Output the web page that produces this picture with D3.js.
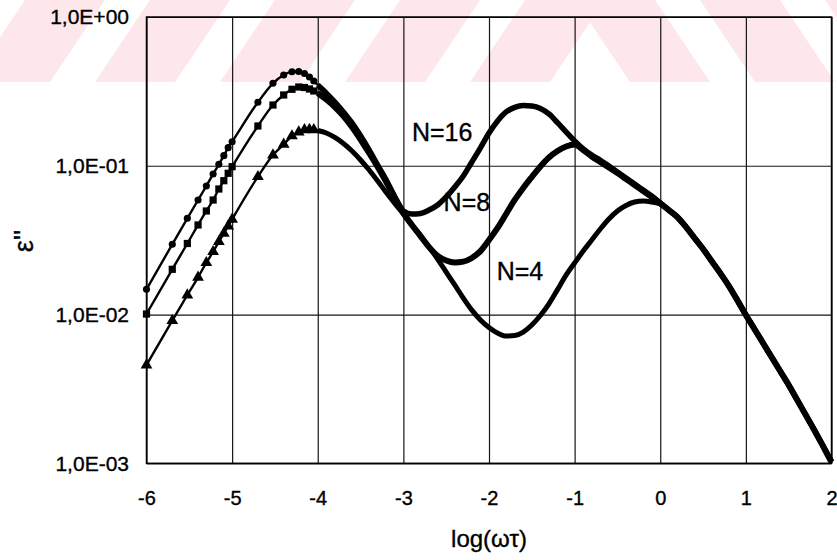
<!DOCTYPE html>
<html>
<head>
<meta charset="utf-8">
<script src="https://d3js.org/d3.v7.min.js"></script>
<style>
body { margin: 0; background: #fff; }
svg { display: block; }
text { font-family: "Liberation Sans", Arial, sans-serif; fill: #000; stroke: #000; stroke-width: 0.35px; }
</style>
</head>
<body>
<svg id="chart" width="837" height="560"></svg>
<script>

// log(omega tau) positions: sparse points k*10^n for the first two decades, then every 0.1
var logW = [-6, -5.699, -5.523, -5.398, -5.301, -5.222, -5.155, -5.097, -5.046,
	-5, -4.699, -4.523, -4.398, -4.301, -4.222, -4.155, -4.097, -4.046,
	-4.0, -3.9, -3.8, -3.7, -3.6, -3.5, -3.4, -3.3, -3.2, -3.1,
	-3.0, -2.9, -2.8, -2.7, -2.6, -2.5, -2.4, -2.3, -2.2, -2.1,
	-2.0, -1.9, -1.8, -1.7, -1.6, -1.5, -1.4, -1.3, -1.2, -1.1,
	-1.0, -0.9, -0.8, -0.7, -0.6, -0.5, -0.4, -0.3, -0.2, -0.1,
	0.0, 0.1, 0.2, 0.3, 0.4, 0.5, 0.6, 0.7, 0.8, 0.9,
	1.0, 1.1, 1.2, 1.3, 1.4, 1.5, 1.6, 1.7, 1.8, 1.9, 2.0];

var epsN16 = [0.01478, 0.02966, 0.04435, 0.05886, 0.07311, 0.08806, 0.1023, 0.1169, 0.1323,
	0.1451, 0.2671, 0.3584, 0.4075, 0.4288, 0.4302, 0.4171, 0.3952, 0.3713,
	0.349, 0.308, 0.268, 0.230, 0.194, 0.159, 0.128, 0.101, 0.0802, 0.0617,
	0.0497, 0.0474, 0.0478, 0.0504, 0.0545, 0.0617, 0.0720, 0.0854, 0.106, 0.132,
	0.166, 0.200, 0.230, 0.247, 0.254, 0.252, 0.243, 0.223, 0.195, 0.169,
	0.147, 0.130, 0.118, 0.109, 0.0997, 0.0908, 0.0828, 0.0754, 0.0687, 0.0626,
	0.0562, 0.0504, 0.0452, 0.0388, 0.0327, 0.0276, 0.0229, 0.0190, 0.0156, 0.0125,
	0.00993, 0.00800, 0.00644, 0.00518, 0.00417, 0.00336, 0.00266, 0.00211, 0.00167, 0.00131, 0.00102];

var epsN8 = [0.01008, 0.02014, 0.03003, 0.0400, 0.04966, 0.05886, 0.06978, 0.07937, 0.08902,
	0.09858, 0.1851, 0.2561, 0.2991, 0.3266, 0.3384, 0.3358, 0.3281, 0.3181,
	0.3084, 0.2790, 0.2483, 0.2160, 0.1822, 0.1502, 0.1218, 0.0981, 0.0778, 0.0612,
	0.0481, 0.0400, 0.0337, 0.0284, 0.0248, 0.0231, 0.0224, 0.0227, 0.0240, 0.0267,
	0.0317, 0.0382, 0.0474, 0.0589, 0.0709, 0.0840, 0.0989, 0.1137, 0.1257, 0.1347,
	0.1390, 0.1276, 0.1154, 0.1060, 0.0974, 0.0894, 0.0815, 0.0743, 0.0677, 0.0617,
	0.0558, 0.0504, 0.0452, 0.0388, 0.0327, 0.0276, 0.0229, 0.0190, 0.0156, 0.0125,
	0.00993, 0.00800, 0.00644, 0.00518, 0.00417, 0.00336, 0.00266, 0.00211, 0.00167, 0.00131, 0.00102];

var epsN4 = [0.004579, 0.009091, 0.01353, 0.01780, 0.02230, 0.02645, 0.03087, 0.03516, 0.0393,
	0.04368, 0.08443, 0.1181, 0.1394, 0.1586, 0.1687, 0.1745, 0.1753, 0.1745,
	0.1726, 0.1661, 0.1549, 0.1411, 0.1257, 0.1094, 0.0937, 0.0790, 0.0661, 0.0558,
	0.0474, 0.0400, 0.0337, 0.0284, 0.0236, 0.0193, 0.0158, 0.0129, 0.0107, 0.00919,
	0.00818, 0.00751, 0.00717, 0.00723, 0.00763, 0.00851, 0.00985, 0.0118, 0.0147, 0.0184,
	0.0222, 0.0267, 0.0317, 0.0376, 0.0439, 0.0497, 0.0541, 0.0571, 0.0580, 0.0571,
	0.0553, 0.0504, 0.0452, 0.0388, 0.0327, 0.0276, 0.0229, 0.0190, 0.0156, 0.0125,
	0.00993, 0.00800, 0.00644, 0.00518, 0.00417, 0.00336, 0.00266, 0.00211, 0.00167, 0.00131, 0.00102];

var seriesNames = ["N=16", "N=8", "N=4"];
var labelX = [-2.90, -2.53, -1.91];
var labelY = [0.1456, 0.0493, 0.0171];

var xTicks = [-6, -5, -4, -3, -2, -1, 0, 1, 2];
var yTicks = [1, 0.1, 0.01, 0.001];
var yTickLabels = ["1,0E+00", "1,0E-01", "1,0E-02", "1,0E-03"];

var sparseCount = 18;

function drawChart(){
	var svg = d3.select("#chart");

	var plotLeft = 146.5, plotRight = 831.5, plotTop = 17, plotBottom = 463.3;

	var x = d3.scaleLinear().domain([-6, 2]).range([plotLeft, plotRight]);
	var y = d3.scaleLog().domain([0.001, 1]).range([plotBottom, plotTop]);

	// faint watermark stripes across the top
	var wm = svg.append("g").attr("fill", "#fde7eb");
	for (var i = 0; i < 5; i++) {
		var x0 = -30 + i * 125;
		wm.append("polygon").attr("points",
			[[x0, 82], [x0 + 80, 82], [x0 + 135, 0], [x0 + 55, 0]].join(" "));
	}
	for (var j = 0; j < 3; j++) {
		var x1 = 575 + j * 125;
		wm.append("polygon").attr("points",
			[[x1, 0], [x1 + 80, 0], [x1 + 135, 82], [x1 + 55, 82]].join(" "));
	}

	// grid + x labels
	var xAxis = svg.append("g")
		.attr("transform", "translate(0," + plotBottom + ")")
		.call(d3.axisBottom(x).tickValues(xTicks).tickSize(-(plotBottom - plotTop)).tickPadding(27.5)
			.tickFormat(function(d){ return String(d); }));
	xAxis.select(".domain").remove();
	xAxis.selectAll("line").attr("stroke", "#151515").attr("stroke-width", 1.2);
	xAxis.selectAll("text").attr("font-size", 20).attr("font-family", "Liberation Sans, Arial, sans-serif");

	var yAxis = svg.append("g")
		.attr("transform", "translate(" + plotLeft + ",0)")
		.call(d3.axisLeft(y).tickValues(yTicks).tickSize(-(plotRight - plotLeft)).tickPadding(17.5)
			.tickFormat(function(d, i){ return yTickLabels[i]; }));
	yAxis.select(".domain").remove();
	yAxis.selectAll("line").attr("stroke", "#151515").attr("stroke-width", 1.2);
	yAxis.selectAll("text").attr("font-size", 21).attr("font-family", "Liberation Sans, Arial, sans-serif");

	svg.append("rect")
		.attr("x", plotLeft).attr("y", plotTop)
		.attr("width", plotRight - plotLeft).attr("height", plotBottom - plotTop)
		.attr("fill", "none").attr("stroke", "#000").attr("stroke-width", 1.5);

	// curves
	var allEps = [epsN16, epsN8, epsN4];
	var thickWidths = [5.5, 6, 5];
	var symbolTypes = [d3.symbolCircle, d3.symbolSquare, d3.symbolTriangle];
	var symbolSizes = [40, 52, 60];

	var line = d3.line()
		.x(function(d){ return x(d[0]); })
		.y(function(d){ return y(d[1]); })
		.curve(d3.curveMonotoneX);

	allEps.forEach(function(vals, s){
		var pts = logW.map(function(w, i){ return [w, vals[i]]; });
		var thin = pts.slice(0, sparseCount + 1);
		var thick = pts.slice(sparseCount);

		svg.append("path")
			.attr("d", line(thin))
			.attr("fill", "none").attr("stroke", "#000").attr("stroke-width", 2.4);

		svg.append("path")
			.attr("d", line(thick))
			.attr("fill", "none").attr("stroke", "#000")
			.attr("stroke-width", thickWidths[s]).attr("stroke-linejoin", "round");

		svg.append("g").selectAll("path")
			.data(pts.slice(0, sparseCount))
			.enter()
			.append("path")
			.attr("d", d3.symbol().type(symbolTypes[s]).size(symbolSizes[s]))
			.attr("transform", function(d){ return "translate(" + x(d[0]) + "," + y(d[1]) + ")"; })
			.attr("fill", "#000");
	});

	// series labels
	svg.append("g").selectAll("text")
		.data(seriesNames)
		.enter()
		.append("text")
		.attr("x", function(d, i){ return x(labelX[i]); })
		.attr("y", function(d, i){ return y(labelY[i]); })
		.attr("font-size", 25)
		.text(function(d){ return d; });

	// axis titles
	svg.append("text")
		.attr("x", (plotLeft + plotRight) / 2)
		.attr("y", 547)
		.attr("text-anchor", "middle")
		.attr("font-size", 24)
		.text("log(ωτ)");

	svg.append("text")
		.attr("transform", "translate(33,241) rotate(-90)")
		.attr("text-anchor", "middle")
		.attr("font-size", 27)
		.attr("stroke-width", 0.8)
		.text("ε''");
}

drawChart();

</script>
</body>
</html>
